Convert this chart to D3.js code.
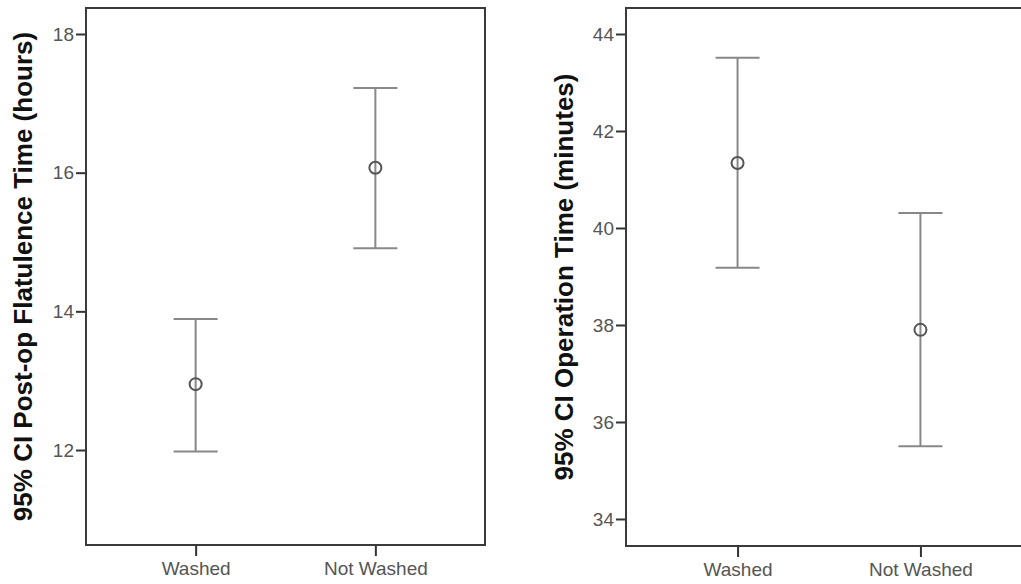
<!DOCTYPE html>
<html>
<head>
<meta charset="utf-8">
<script src="https://cdn.jsdelivr.net/npm/d3@7"></script>
<style>
  body { margin: 0; background: #fff; }
  svg { display: block; }
  .tick text { font-family: "Liberation Sans", Arial, sans-serif; font-size: 19px; fill: #555; }
  .tick line { stroke: #333; stroke-width: 2px; }
  .axisTitle { font-family: "Liberation Sans", Arial, sans-serif; font-size: 26px; font-weight: bold; fill: #111; }
</style>
</head>
<body>
<div id="chart"></div>
<script>
// groups on the x axis
var groups = ["Washed", "Not Washed"];

// post-op flatulence time (hours), 95% CI
var flatusMean = [12.95, 16.07];
var flatusLower = [11.98, 14.91];
var flatusUpper = [13.89, 17.22];
var flatusTicks = [12, 14, 16, 18];

// operation time (minutes), 95% CI
var opMean = [41.34, 37.9];
var opLower = [39.18, 35.5];
var opUpper = [43.51, 40.31];
var opTicks = [34, 36, 38, 40, 42, 44];

var svgWidth = 1021;
var svgHeight = 584;

var svg = d3.select("#chart")
    .append("svg")
    .attr("width", svgWidth)
    .attr("height", svgHeight);

function drawPanel(p) {
    var width = p.right - p.left;
    var height = p.bottom - p.top;

    var g = svg.append("g")
        .attr("transform", `translate(${p.left}, ${p.top})`);

    var x = d3.scalePoint()
        .domain(groups)
        .range([0, width])
        .padding(0.61);

    var y = d3.scaleLinear()
        .domain(p.domain)
        .range([height, 0]);

    // y axis
    var yAxis = g.append("g")
        .call(d3.axisLeft(y).tickValues(p.ticks).tickSize(10).tickPadding(2));
    yAxis.select(".domain").remove();

    // x axis
    var xAxis = g.append("g")
        .attr("transform", `translate(0, ${height})`)
        .call(d3.axisBottom(x).tickSize(11).tickPadding(6));
    xAxis.select(".domain").remove();

    // frame
    g.append("rect")
        .attr("x", 0)
        .attr("y", 0)
        .attr("width", width)
        .attr("height", height)
        .attr("fill", "none")
        .attr("stroke", "#3a3a3a")
        .attr("stroke-width", 2);

    var capHalf = 22;
    var bars = g.selectAll(".bar")
        .data(groups)
        .enter()
        .append("g")
        .attr("class", "bar");

    bars.append("line")
        .attr("x1", d => x(d))
        .attr("x2", d => x(d))
        .attr("y1", (d, i) => y(p.lower[i]))
        .attr("y2", (d, i) => y(p.upper[i]))
        .attr("stroke", "#888")
        .attr("stroke-width", 2);

    bars.append("line")
        .attr("x1", d => x(d) - capHalf)
        .attr("x2", d => x(d) + capHalf)
        .attr("y1", (d, i) => y(p.upper[i]))
        .attr("y2", (d, i) => y(p.upper[i]))
        .attr("stroke", "#888")
        .attr("stroke-width", 2);

    bars.append("line")
        .attr("x1", d => x(d) - capHalf)
        .attr("x2", d => x(d) + capHalf)
        .attr("y1", (d, i) => y(p.lower[i]))
        .attr("y2", (d, i) => y(p.lower[i]))
        .attr("stroke", "#888")
        .attr("stroke-width", 2);

    bars.append("circle")
        .attr("cx", d => x(d))
        .attr("cy", (d, i) => y(p.mean[i]))
        .attr("r", 6)
        .attr("fill", "none")
        .attr("stroke", "#555")
        .attr("stroke-width", 2);

    // axis title
    svg.append("text")
        .attr("class", "axisTitle")
        .attr("transform", `translate(${p.titleX}, ${p.top + height / 2}) rotate(-90)`)
        .attr("text-anchor", "middle")
        .text(p.title);
}

drawPanel({
    left: 86, right: 485, top: 8, bottom: 545,
    domain: [10.63, 18.375],
    ticks: flatusTicks,
    mean: flatusMean, lower: flatusLower, upper: flatusUpper,
    title: "95% CI Post-op Flatulence Time (hours)",
    titleX: 32
});

drawPanel({
    left: 626, right: 1032, top: 8, bottom: 546,
    domain: [33.443, 44.536],
    ticks: opTicks,
    mean: opMean, lower: opLower, upper: opUpper,
    title: "95% CI Operation Time (minutes)",
    titleX: 573
});
</script>
</body>
</html>
